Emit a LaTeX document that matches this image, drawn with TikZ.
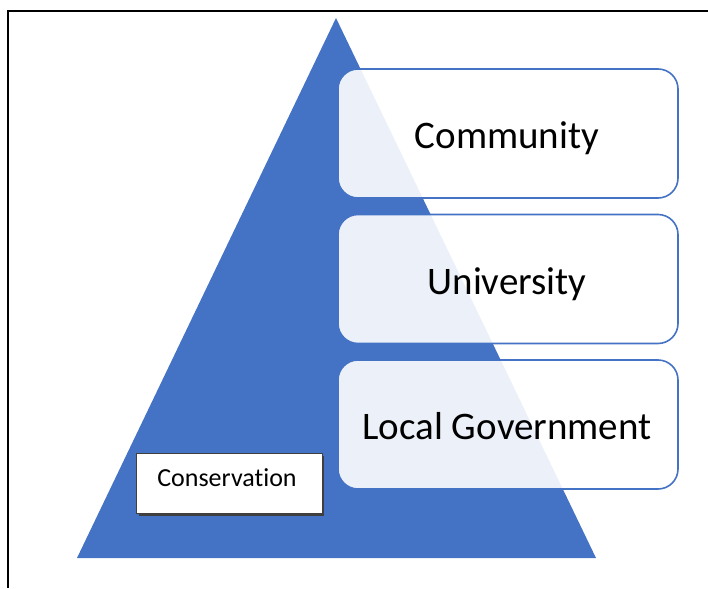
\documentclass[tikz,border=0pt]{standalone}
\usepackage{fontspec}
\setmainfont[Ligatures=NoCommon]{Carlito}
\definecolor{accblue}{HTML}{4472C4}
\definecolor{shadowgray}{HTML}{3F3F3F}
\begin{document}
\begin{tikzpicture}[x=1pt,y=-1pt,
  layerbox/.style={draw=accblue, line width=1.6pt, fill=white, fill opacity=0.9,
    text opacity=1, rounded corners=20pt, minimum width=340pt, minimum height=129pt,
    inner sep=0pt},
  layertext/.style={font=\fontsize{39}{46}\selectfont, anchor=base},
  labelbox/.style={draw=shadowgray, line width=0.8pt, fill=white, minimum width=186pt,
    minimum height=60pt, inner sep=0pt}]
\useasboundingbox (0,0) rectangle (708,588);
% frame
\draw[line width=2pt] (708,11) -- (8,11) -- (8,588);
% pyramid
\fill[accblue] (336,18) coordinate (apex) -- (596,558) coordinate (br) -- (77,558) coordinate (bl) -- cycle;
% layers
\node[layerbox] (community) at (508,133.5) {};
\node[layerbox] (university) at (508,279) {};
\node[layerbox] (localgov) at (508,424.5) {};
\node[layertext] (communitytext) at (507,149) {Community};
\node[layertext] (universitytext) at (507,294) {University};
\node[layertext] (localgovtext) at (507,439) {Local Government};
% conservation label with shadow
\fill[shadowgray] (139,456) rectangle (324,516);
\node[labelbox] (conservation) at (229,483) {};
\node[font=\fontsize{26}{30}\selectfont, anchor=base] (constext) at (227,486) {Conservation};
\end{tikzpicture}
\end{document}
